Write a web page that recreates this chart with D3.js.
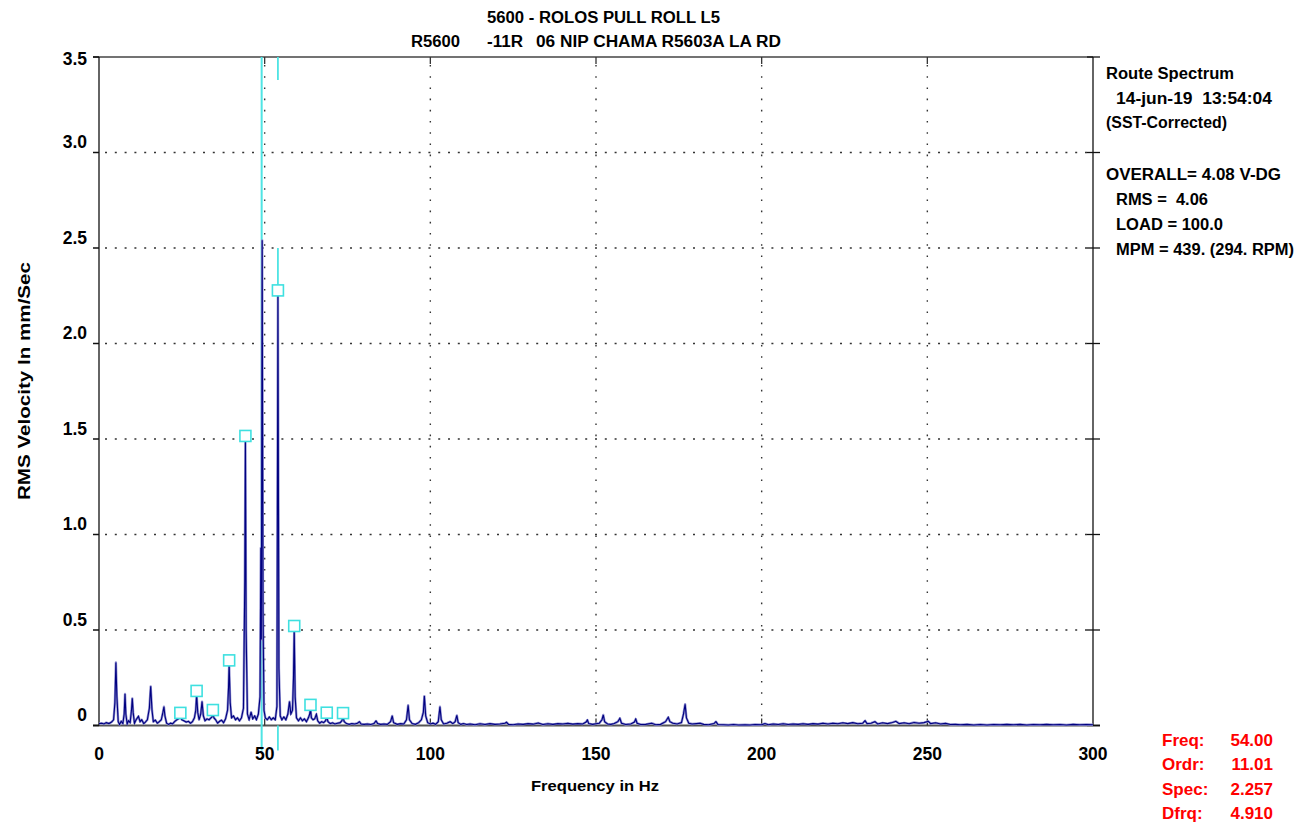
<!DOCTYPE html>
<html>
<head>
<meta charset="utf-8">
<script src="https://cdn.jsdelivr.net/npm/d3@7/dist/d3.min.js"></script>
<style>
  html, body { margin: 0; padding: 0; background: #fff; }
  svg { display: block; font-family: "Liberation Sans", Arial, sans-serif; font-weight: bold; }
  svg text { white-space: pre; }
</style>
</head>
<body>
<svg id="chart" width="1299" height="822"></svg>
<script>
// ---- Spectrum data: [frequency Hz, RMS velocity mm/s] ----
const spectrumLow = [
  [0.0, 0.010], [0.8, 0.012], [1.5, 0.008], [2.2, 0.015], [3.0, 0.010], [3.8, 0.018],
  [4.4, 0.030], [4.8, 0.120], [5.1, 0.330], [5.4, 0.150], [5.8, 0.020], [6.2, 0.005],
  [6.7, 0.022], [7.2, 0.010], [7.6, 0.060], [7.85, 0.165], [8.1, 0.060], [8.5, 0.008],
  [8.9, 0.025], [9.4, 0.015], [9.8, 0.080], [10.05, 0.142], [10.3, 0.070], [10.7, 0.012],
  [11.2, 0.030], [11.9, 0.048], [12.4, 0.020], [12.9, 0.030], [13.5, 0.010], [14.0, 0.018],
  [14.6, 0.030], [15.2, 0.090], [15.6, 0.205], [16.0, 0.080], [16.4, 0.020], [17.0, 0.028],
  [17.6, 0.012], [18.2, 0.020], [18.8, 0.030], [19.3, 0.070], [19.6, 0.098], [19.9, 0.050],
  [20.4, 0.012], [21.0, 0.006], [21.6, 0.012], [22.2, 0.008], [22.8, 0.020], [23.5, 0.030],
  [24.0, 0.035], [24.55, 0.045], [25.0, 0.030], [25.6, 0.025], [26.3, 0.018], [27.0, 0.022],
  [27.6, 0.012], [28.2, 0.020], [28.8, 0.040], [29.2, 0.080], [29.46, 0.160], [29.8, 0.070],
  [30.2, 0.030], [30.7, 0.060], [31.1, 0.125], [31.5, 0.050], [32.0, 0.025], [32.6, 0.035],
  [33.2, 0.030], [33.8, 0.040], [34.1, 0.045], [34.37, 0.060], [34.7, 0.040], [35.2, 0.030],
  [35.8, 0.012], [36.4, 0.022], [37.0, 0.028], [37.6, 0.015], [38.2, 0.035], [38.8, 0.080],
  [39.1, 0.200], [39.28, 0.320], [39.6, 0.120], [40.0, 0.040], [40.6, 0.050], [41.2, 0.030],
  [41.8, 0.040], [42.4, 0.025], [43.0, 0.040], [43.6, 0.090], [44.0, 0.750], [44.19, 1.495],
  [44.4, 0.500], [44.8, 0.060], [45.3, 0.030], [45.9, 0.070], [46.4, 0.035], [47.0, 0.050],
  [47.5, 0.030], [48.1, 0.060], [48.6, 0.150], [48.85, 0.930], [49.0, 0.450], [49.25, 2.540],
  [49.5, 0.600], [49.8, 0.080], [50.2, 0.040], [50.8, 0.030], [51.4, 0.045], [52.0, 0.030],
  [52.6, 0.040], [53.2, 0.030], [53.7, 0.100], [54.0, 2.257], [54.3, 0.300], [54.7, 0.050],
  [55.2, 0.030], [55.8, 0.045], [56.4, 0.030], [57.0, 0.060], [57.5, 0.125], [57.9, 0.060],
  [58.4, 0.080], [58.7, 0.250], [58.92, 0.500], [59.2, 0.150], [59.6, 0.040], [60.2, 0.025],
  [60.8, 0.040], [61.4, 0.025], [62.0, 0.035], [62.6, 0.020], [63.2, 0.040], [63.6, 0.060],
  [63.83, 0.087], [64.1, 0.040], [64.6, 0.030], [65.1, 0.035], [65.6, 0.059], [66.0, 0.025],
  [66.6, 0.012], [67.2, 0.020], [67.8, 0.015], [68.4, 0.025], [68.74, 0.046], [69.1, 0.020],
  [69.8, 0.010], [70.5, 0.014], [71.2, 0.008], [72.0, 0.012], [72.8, 0.015], [73.3, 0.025],
  [73.65, 0.044], [74.0, 0.020], [74.7, 0.010], [75.5, 0.006], [76.3, 0.010], [77.2, 0.008],
  [78.0, 0.012], [78.6, 0.020], [79.1, 0.008], [80.0, 0.006], [81.0, 0.008], [82.0, 0.005],
  [83.0, 0.010], [83.6, 0.024], [84.1, 0.010], [85.0, 0.006], [86.0, 0.008], [87.0, 0.006],
  [88.0, 0.020], [88.5, 0.050], [88.9, 0.015], [90.0, 0.006], [91.0, 0.010], [92.0, 0.008],
  [92.8, 0.030], [93.3, 0.106], [93.7, 0.030], [94.5, 0.010], [95.5, 0.006], [96.5, 0.015],
  [97.3, 0.030], [97.9, 0.070], [98.2, 0.154], [98.6, 0.050], [99.2, 0.015], [100.0, 0.008],
  [100.8, 0.012], [101.6, 0.006], [102.4, 0.020], [102.9, 0.098], [103.3, 0.030], [104.0, 0.008],
  [105.0, 0.012], [106.0, 0.020], [106.8, 0.010], [107.5, 0.020], [108.0, 0.053], [108.4, 0.015],
  [109.2, 0.006], [110.0, 0.010], [111.0, 0.005]
];

const spectrumHigh = [
  [112.0, 0.008], [113.5, 0.004], [115.0, 0.009], [116.5, 0.005], [118.0, 0.010], [119.5, 0.006],
  [121.0, 0.008], [122.5, 0.012], [123.0, 0.017], [123.6, 0.006], [125.0, 0.004], [126.5, 0.008],
  [128.0, 0.006], [129.5, 0.010], [131.0, 0.007], [132.6, 0.013], [134.0, 0.005], [135.5, 0.009],
  [137.0, 0.006], [138.5, 0.010], [140.0, 0.008], [141.5, 0.011], [143.0, 0.007], [144.5, 0.010],
  [146.0, 0.008], [147.0, 0.018], [147.4, 0.029], [147.8, 0.010], [149.0, 0.006], [150.0, 0.009],
  [151.0, 0.012], [151.8, 0.030], [152.2, 0.055], [152.6, 0.020], [153.5, 0.008], [154.5, 0.006],
  [155.5, 0.010], [156.6, 0.020], [157.2, 0.038], [157.7, 0.012], [159.0, 0.005], [160.5, 0.008],
  [161.6, 0.018], [162.0, 0.034], [162.4, 0.012], [163.5, 0.005], [165.0, 0.006], [166.8, 0.012],
  [168.0, 0.004], [169.5, 0.006], [171.0, 0.020], [171.8, 0.043], [172.3, 0.020], [173.2, 0.012],
  [174.5, 0.008], [175.8, 0.015], [176.4, 0.060], [176.9, 0.111], [177.3, 0.040], [178.0, 0.012],
  [179.0, 0.008], [180.3, 0.010], [181.4, 0.012], [182.5, 0.006], [184.0, 0.004], [185.6, 0.010],
  [186.2, 0.020], [186.8, 0.005], [188.5, 0.004], [190.0, 0.003], [191.5, 0.005], [193.0, 0.003],
  [195.0, 0.004], [196.5, 0.003], [198.0, 0.005], [200.0, 0.004], [201.0, 0.010], [202.0, 0.004],
  [203.5, 0.008], [205.0, 0.005], [206.5, 0.009], [208.0, 0.005], [209.5, 0.008], [211.0, 0.006],
  [212.5, 0.009], [214.0, 0.006], [215.5, 0.010], [217.0, 0.007], [218.5, 0.012], [220.0, 0.008],
  [221.5, 0.012], [223.0, 0.009], [224.5, 0.014], [226.0, 0.010], [227.5, 0.015], [229.0, 0.009],
  [230.5, 0.012], [231.2, 0.025], [231.8, 0.010], [233.0, 0.012], [234.2, 0.020], [235.0, 0.008],
  [236.5, 0.014], [238.0, 0.010], [239.5, 0.016], [240.5, 0.022], [241.5, 0.010], [243.0, 0.014],
  [244.5, 0.009], [246.0, 0.016], [247.5, 0.012], [249.0, 0.015], [250.3, 0.022], [251.0, 0.010],
  [252.5, 0.014], [254.0, 0.008], [255.5, 0.011], [257.0, 0.005], [258.5, 0.006], [260.0, 0.004],
  [262.0, 0.006], [264.0, 0.003], [266.0, 0.005], [268.0, 0.003], [270.0, 0.005], [272.0, 0.004],
  [274.0, 0.006], [276.0, 0.004], [278.0, 0.006], [280.0, 0.003], [282.0, 0.005], [284.0, 0.004],
  [286.0, 0.006], [288.0, 0.004], [290.0, 0.005], [292.0, 0.003], [294.0, 0.006], [296.0, 0.004],
  [298.0, 0.005], [300.0, 0.004]
];

// Harmonic markers (multiples of the 4.91 Hz running speed)
const markerFreqs  = [24.55, 29.46, 34.37, 39.28, 44.19, 54.00, 58.92, 63.83, 68.74, 73.65];
const markerValues = [0.045, 0.160, 0.060, 0.320, 1.495, 2.257, 0.500, 0.087, 0.046, 0.044];

// Cursor readout
const cursorFreq = 54.00;
const cursorOrder = 11.01;
const cursorSpec = 2.257;
const deltaFreq = 4.910;

// Axis ticks
const xTicks = [0, 50, 100, 150, 200, 250, 300];
const yTicks = [0, 0.5, 1.0, 1.5, 2.0, 2.5, 3.0, 3.5];

// Header / info text
const titleLine1 = "5600 - ROLOS PULL ROLL L5";
const titleLine2 = ["R5600", "-11R", "06 NIP CHAMA R5603A LA RD"];
const infoLines = [
  "Route Spectrum",
  "14-jun-19  13:54:04",
  "(SST-Corrected)",
  "OVERALL= 4.08 V-DG",
  "RMS =  4.06",
  "LOAD = 100.0",
  "MPM = 439. (294. RPM)"
];
const readoutLabels = ["Freq:", "Ordr:", "Spec:", "Dfrq:"];
const readoutValues = [cursorFreq.toFixed(2), cursorOrder.toFixed(2), cursorSpec.toFixed(3), deltaFreq.toFixed(3)];

// ---- Drawing ----
const svg = d3.select("#chart");
const x = d3.scaleLinear().domain([0, 300]).range([99, 1093]);
const y = d3.scaleLinear().domain([0, 3.5]).range([725.5, 57]);
const [x0, x1] = x.range();
const [yb, yt] = y.range();

// Dotted gridlines
svg.append("g").selectAll("line")
  .data(yTicks.filter(v => v > 0 && v < 3.5))
  .join("line")
  .attr("x1", x0 + 6).attr("x2", x1)
  .attr("y1", d => y(d)).attr("y2", d => y(d))
  .attr("stroke", "#333").attr("stroke-width", 1.5)
  .attr("stroke-dasharray", "2 7.8");

svg.append("g").selectAll("line")
  .data(xTicks.filter(v => v > 0 && v < 300))
  .join("line")
  .attr("x1", d => x(d)).attr("x2", d => x(d))
  .attr("y1", yt + 8).attr("y2", yb)
  .attr("stroke", "#333").attr("stroke-width", 1.4)
  .attr("stroke-dasharray", "1.6 9.6");

// Frame
const frame = svg.append("g");
frame.append("line").attr("x1", x0 - 6).attr("x2", x1).attr("y1", yt).attr("y2", yt)
  .attr("stroke", "#444").attr("stroke-width", 1.5);
frame.append("line").attr("x1", x0 - 6).attr("x2", x1 + 7).attr("y1", yb).attr("y2", yb)
  .attr("stroke", "#555").attr("stroke-width", 2);
frame.append("line").attr("x1", x0).attr("x2", x0).attr("y1", yt).attr("y2", yb)
  .attr("stroke", "#111").attr("stroke-width", 1.3);
frame.append("line").attr("x1", x1).attr("x2", x1).attr("y1", yt).attr("y2", yb)
  .attr("stroke", "#111").attr("stroke-width", 1.3);

// Y ticks: outward on the left, crossing on the right
frame.selectAll(".ytl").data(yTicks).join("line")
  .attr("x1", x0 - 6).attr("x2", x0).attr("y1", d => y(d)).attr("y2", d => y(d))
  .attr("stroke", "#111").attr("stroke-width", 1.5);
frame.selectAll(".ytr").data(yTicks).join("line")
  .attr("x1", x1 - 6).attr("x2", x1 + 7).attr("y1", d => y(d)).attr("y2", d => y(d))
  .attr("stroke", "#111").attr("stroke-width", 1.3);
// X ticks: inward at top and bottom
frame.selectAll(".xtt").data(xTicks.filter(v => v > 0 && v < 300)).join("line")
  .attr("x1", d => x(d)).attr("x2", d => x(d)).attr("y1", yt).attr("y2", yt + 7)
  .attr("stroke", "#333").attr("stroke-width", 1.3);
frame.selectAll(".xtb").data(xTicks.filter(v => v > 0 && v < 300)).join("line")
  .attr("x1", d => x(d)).attr("x2", d => x(d)).attr("y1", yb - 7).attr("y2", yb)
  .attr("stroke", "#333").attr("stroke-width", 1.3);

// Reference cursor (harmonic spacing below the main cursor), drawn under the trace
const cyan = "#4ee4e4";
svg.append("line")
  .attr("x1", x(cursorFreq - deltaFreq)).attr("x2", x(cursorFreq - deltaFreq))
  .attr("y1", yt).attr("y2", yb + 25)
  .attr("stroke", cyan).attr("stroke-width", 2);

// Spectrum trace
const spectrum = spectrumLow.concat(spectrumHigh);
const line = d3.line().x(d => x(d[0])).y(d => y(d[1]));
svg.append("path").datum(spectrum).attr("d", line)
  .attr("fill", "none").attr("stroke", "#9090d0").attr("stroke-width", 2.4)
  .attr("stroke-linejoin", "round");
svg.append("path").datum(spectrum).attr("d", line)
  .attr("fill", "none").attr("stroke", "#000080").attr("stroke-width", 1.1)
  .attr("stroke-linejoin", "miter");

// Main cursor segments
const cx = x(cursorFreq);
const cursorG = svg.append("g").attr("stroke", cyan).attr("stroke-width", 1.8);
cursorG.append("line").attr("x1", cx).attr("x2", cx).attr("y1", yt).attr("y2", y(3.38));
cursorG.append("line").attr("x1", cx).attr("x2", cx).attr("y1", y(2.5)).attr("y2", y(cursorSpec) - 9);
cursorG.append("line").attr("x1", cx).attr("x2", cx).attr("y1", yb).attr("y2", yb + 25);

// Harmonic marker boxes
const box = 11;
svg.append("g").selectAll("rect")
  .data(markerFreqs.map((f, i) => [f, markerValues[i]]))
  .join("rect")
  .attr("x", d => x(d[0]) - box / 2)
  .attr("y", d => y(d[1]) - 4 - box / 2)
  .attr("width", box).attr("height", box)
  .attr("fill", "#fff").attr("stroke", "#3fe0e0").attr("stroke-width", 1.6);

// Axis labels
svg.append("g").selectAll("text").data(yTicks).join("text")
  .attr("x", x0 - 12)
  .attr("y", d => d === 3.5 ? y(d) + 8 : y(d) - 4.5)
  .attr("text-anchor", "end")
  .attr("font-size", 17.5)
  .attr("fill", "#000")
  .text(d => d === 0 ? "0" : d.toFixed(1));

svg.append("g").selectAll("text").data(xTicks).join("text")
  .attr("x", d => x(d)).attr("y", 760)
  .attr("text-anchor", "middle")
  .attr("font-size", 17.5)
  .attr("fill", "#000")
  .text(d => d);

svg.append("text")
  .attr("x", 531).attr("y", 791)
  .attr("font-size", 15.5)
  .attr("textLength", 128).attr("lengthAdjust", "spacingAndGlyphs")
  .text("Frequency in Hz");

svg.append("text")
  .attr("transform", "translate(30,500) rotate(-90)")
  .attr("font-size", 17)
  .attr("textLength", 238).attr("lengthAdjust", "spacingAndGlyphs")
  .text("RMS Velocity In mm/Sec");

// Title
svg.append("text").attr("x", 487).attr("y", 23).attr("font-size", 16)
  .attr("textLength", 233).attr("lengthAdjust", "spacingAndGlyphs")
  .text(titleLine1);
const t2x = [411, 487, 536];
const t2w = [49, 36, 245];
svg.append("g").selectAll("text").data(titleLine2).join("text")
  .attr("x", (d, i) => t2x[i]).attr("y", 47).attr("font-size", 16)
  .attr("textLength", (d, i) => t2w[i]).attr("lengthAdjust", "spacingAndGlyphs")
  .text(d => d);

// Info block on the right
const infoX = [1106, 1116, 1106, 1106, 1116, 1116, 1116];
const infoY = [79, 104, 128, 180, 205, 230, 255];
const infoW = [128, 156, 121, 175, 92, 107, 178];
svg.append("g").selectAll("text").data(infoLines).join("text")
  .attr("x", (d, i) => infoX[i]).attr("y", (d, i) => infoY[i])
  .attr("font-size", 16)
  .attr("textLength", (d, i) => infoW[i]).attr("lengthAdjust", "spacingAndGlyphs")
  .text(d => d);

// Cursor readout (red)
const ro = svg.append("g").attr("fill", "#ff0000").attr("font-size", 17);
ro.selectAll(".lab").data(readoutLabels).join("text")
  .attr("x", 1162).attr("y", (d, i) => 746 + i * 24.3)
  .text(d => d);
ro.selectAll(".val").data(readoutValues).join("text")
  .attr("x", 1273).attr("y", (d, i) => 746 + i * 24.3)
  .attr("text-anchor", "end")
  .text(d => d);
</script>
</body>
</html>
